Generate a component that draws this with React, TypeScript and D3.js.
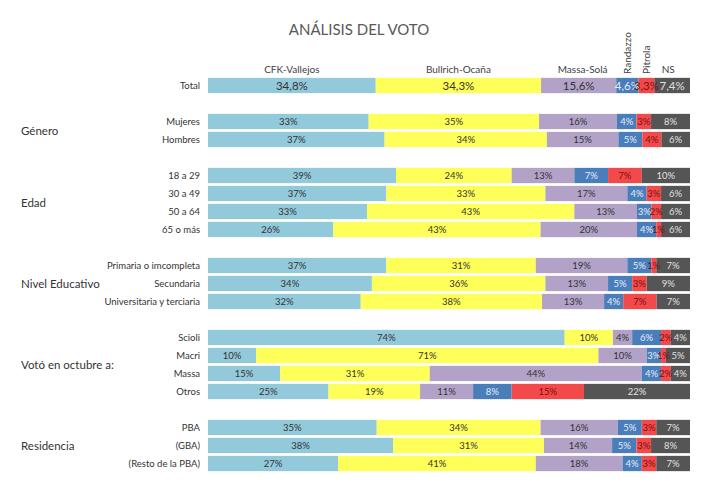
import * as d3 from "d3";

const parties = ["CFK-Vallejos", "Bullrich-Ocaña", "Massa-Solá", "Randazzo", "Pitrola", "NS"];
const partyColors = ["#92c9db", "#ffff5a", "#b2a2c8", "#4a7ebb", "#f24a4a", "#555555"];
const labelColors = ["#333333", "#333333", "#333333", "#e6ecf5", "#7a1010", "#e0e0e0"];

// row label, slot index (empty slots separate the groups), values per party
const rowLabels = [
  "Total",
  "Mujeres", "Hombres",
  "18 a 29", "30 a 49", "50 a 64", "65 o más",
  "Primaria o imcompleta", "Secundaria", "Universitaria y terciaria",
  "Scioli", "Macri", "Massa", "Otros",
  "PBA", "(GBA)", "(Resto de la PBA)",
];
const rowSlots = [0, 2, 3, 5, 6, 7, 8, 10, 11, 12, 14, 15, 16, 17, 19, 20, 21];
const rowValues = [
  [34.8, 34.3, 15.6, 4.6, 3.3, 7.4],
  [33, 35, 16, 4, 3, 8],
  [37, 34, 15, 5, 4, 6],
  [39, 24, 13, 7, 7, 10],
  [37, 33, 17, 4, 3, 6],
  [33, 43, 13, 3, 2, 6],
  [26, 43, 20, 4, 1, 6],
  [37, 31, 19, 5, 1, 7],
  [34, 36, 13, 5, 3, 9],
  [32, 38, 13, 4, 7, 7],
  [74, 10, 4, 6, 2, 4],
  [10, 71, 10, 3, 1, 5],
  [15, 31, 44, 4, 2, 4],
  [25, 19, 11, 8, 15, 22],
  [35, 34, 16, 5, 3, 7],
  [38, 31, 14, 5, 3, 8],
  [27, 41, 18, 4, 3, 7],
];

const groupNames = ["Género", "Edad", "Nivel Educativo", "Votó en octubre a:", "Residencia"];
const groupSlots = [[2, 3], [5, 8], [10, 12], [14, 17], [19, 21]];

const W = 720;
const H = 490;
const font = "Lato, 'Open Sans', sans-serif";

export default function App() {
  const x = d3.scaleLinear().domain([0, 1]).range([208, 690]);
  const y = d3.scaleBand<number>().domain(d3.range(22)).range([76.5, 472.5]).paddingInner(0.15).paddingOuter(0.075);

  const table = rowValues.map((v, i) => {
    const o: any = { row: i };
    parties.forEach((p, j) => (o[p] = v[j]));
    return o;
  });
  const series = d3.stack<any>().keys(parties).offset(d3.stackOffsetExpand)(table);

  const yc = (slot: number) => (y(slot) ?? 0) + y.bandwidth() / 2;
  const fmt = (v: number, i: number) => (i === 0 ? d3.format(".1f")(v).replace(".", ",") : String(v)) + "%";

  return (
    <svg width={W} height={H} style={{ position: "absolute", left: 0, top: 0, background: "#fff" }} fontFamily={font}>
      <text x={359} y={35} textAnchor="middle" fontSize={15} fill="#595959">ANÁLISIS DEL VOTO</text>

      {series.map((s, j) =>
        s.map((d, i) => (
          <rect key={`${j}-${i}`} x={x(d[0])} y={y(rowSlots[i])} width={x(d[1]) - x(d[0])}
            height={y.bandwidth()} fill={partyColors[j]} />
        ))
      )}

      {series.map((s, j) =>
        s.map((d, i) => (
          <text key={`t${j}-${i}`} x={(x(d[0]) + x(d[1])) / 2} y={yc(rowSlots[i])} dy="0.35em"
            textAnchor="middle" fontSize={i === 0 ? 11.5 : 9.5} fill={labelColors[j]}>
            {fmt(rowValues[i][j], i)}
          </text>
        ))
      )}

      {/* party headers above the total bar */}
      {series.map((s, j) => {
        const cx = (x(s[0][0]) + x(s[0][1])) / 2;
        const rotated = j === 3 || j === 4;
        return rotated ? (
          <text key={`h${j}`} transform={`translate(${cx + 4},74) rotate(-90)`} fontSize={10} fill="#404040">
            {parties[j]}
          </text>
        ) : (
          <text key={`h${j}`} x={cx + (j === 2 ? 4 : j === 5 ? -4 : 0)} y={73} textAnchor="middle" fontSize={10} fill="#404040">
            {parties[j]}
          </text>
        );
      })}

      {rowLabels.map((l, i) => (
        <text key={`r${i}`} x={200} y={yc(rowSlots[i])} dy="0.35em" textAnchor="end" fontSize={9.5} fill="#333">
          {l}
        </text>
      ))}

      {groupNames.map((g, i) => (
        <text key={`g${i}`} x={21} y={(yc(groupSlots[i][0]) + yc(groupSlots[i][1])) / 2} dy="0.35em"
          fontSize={11.5} fill="#333">
          {g}
        </text>
      ))}
    </svg>
  );
}
